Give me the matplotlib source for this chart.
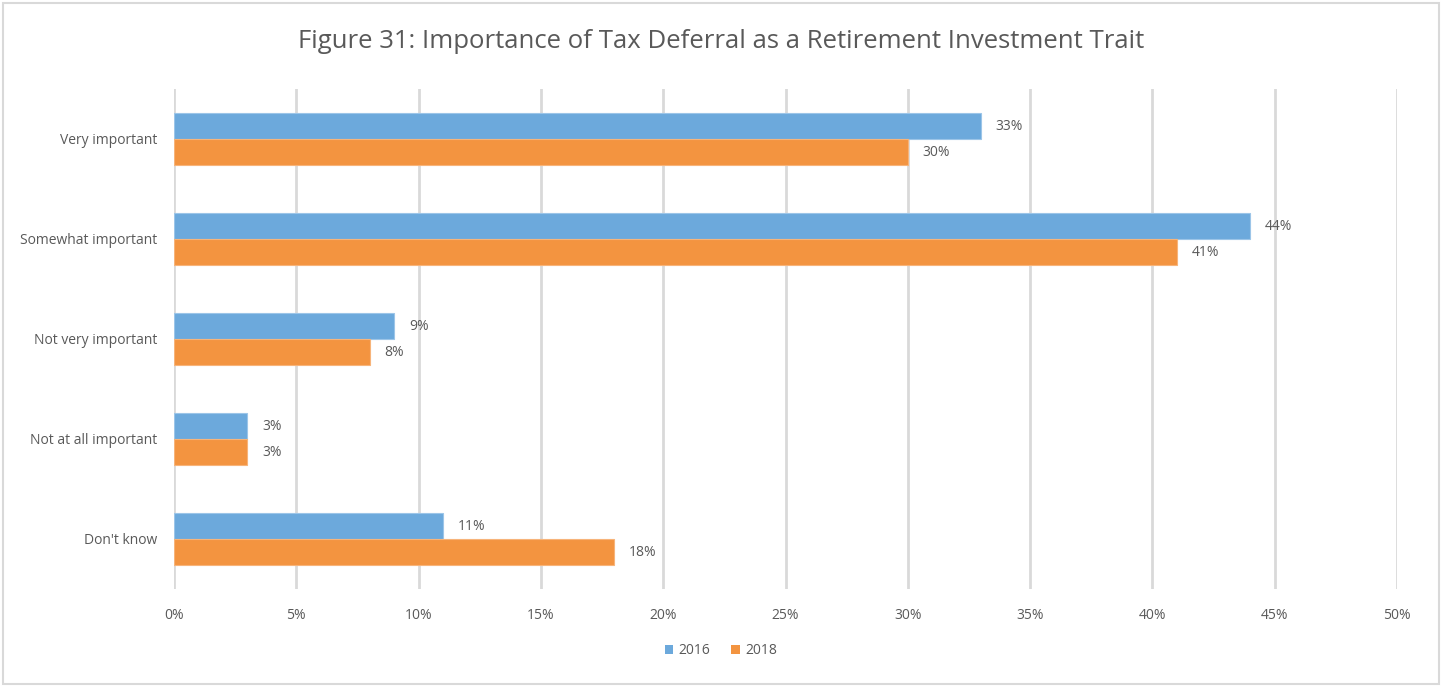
import numpy as np
import matplotlib.pyplot as plt
from matplotlib.patches import Rectangle

categories = ["Very important", "Somewhat important", "Not very important",
              "Not at all important", "Don't know"]
vals_2016 = [33, 44, 9, 3, 11]
vals_2018 = [30, 41, 8, 3, 18]
years = ["2016", "2018"]
x_ticks = [0, 5, 10, 15, 20, 25, 30, 35, 40, 45, 50]

blue = "#6CA9DC"
orange = "#F39440"
txt = "#595959"
grid_c = "#D9D9D9"

plt.rcParams['font.family'] = ['Open Sans', 'DejaVu Sans']

fig = plt.figure(figsize=(14.42, 6.87), dpi=100)
ax = fig.add_axes([174 / 1442, 1 - 589 / 687, (1397 - 174) / 1442, 500 / 687])

y = np.arange(len(categories))
h = 0.26
ax.barh(y - h / 2, vals_2016, height=h, color=blue, edgecolor="#9CC5E8",
        linewidth=0.8, label=years[0], zorder=3)
ax.barh(y + h / 2, vals_2018, height=h, color=orange, edgecolor="#F7B47A",
        linewidth=0.8, label=years[1], zorder=3)

for yi, v in zip(y, vals_2016):
    ax.text(v + 0.6, yi - h / 2, f"{v}%", va="center", ha="left",
            fontsize=10, color=txt)
for yi, v in zip(y, vals_2018):
    ax.text(v + 0.6, yi + h / 2, f"{v}%", va="center", ha="left",
            fontsize=10, color=txt)

ax.set_xlim(0, 50)
ax.set_ylim(len(categories) - 0.5, -0.5)
ax.set_xticks(x_ticks)
ax.set_xticklabels([f"{t}%" for t in x_ticks])
ax.set_yticks(y)
ax.set_yticklabels(categories)
ax.tick_params(axis="both", length=0, labelsize=10, labelcolor=txt)
ax.tick_params(axis="x", pad=14)
ax.tick_params(axis="y", pad=12)
ax.grid(axis="x", color=grid_c, linewidth=2, zorder=0)
for s in ax.spines.values():
    s.set_visible(False)

fig.text(0.5, 1 - 42 / 687, "Figure 31: Importance of Tax Deferral as a Retirement Investment Trait",
         ha="center", va="center", fontsize=18.5, color=txt)

leg = fig.legend(loc="center", bbox_to_anchor=(0.5, 1 - 651 / 687), ncol=2,
                 frameon=False, fontsize=10, handlelength=0.6, handleheight=0.6,
                 columnspacing=1.5, handletextpad=0.4)
for t in leg.get_texts():
    t.set_color(txt)
for p in leg.get_patches():
    p.set_edgecolor("none")

fig.patches.append(Rectangle((3 / 1442, 3 / 687), 1 - 6 / 1442, 1 - 6 / 687,
                             transform=fig.transFigure, fill=False,
                             edgecolor=grid_c, linewidth=1.5))

fig.savefig("out.png", dpi=100)
